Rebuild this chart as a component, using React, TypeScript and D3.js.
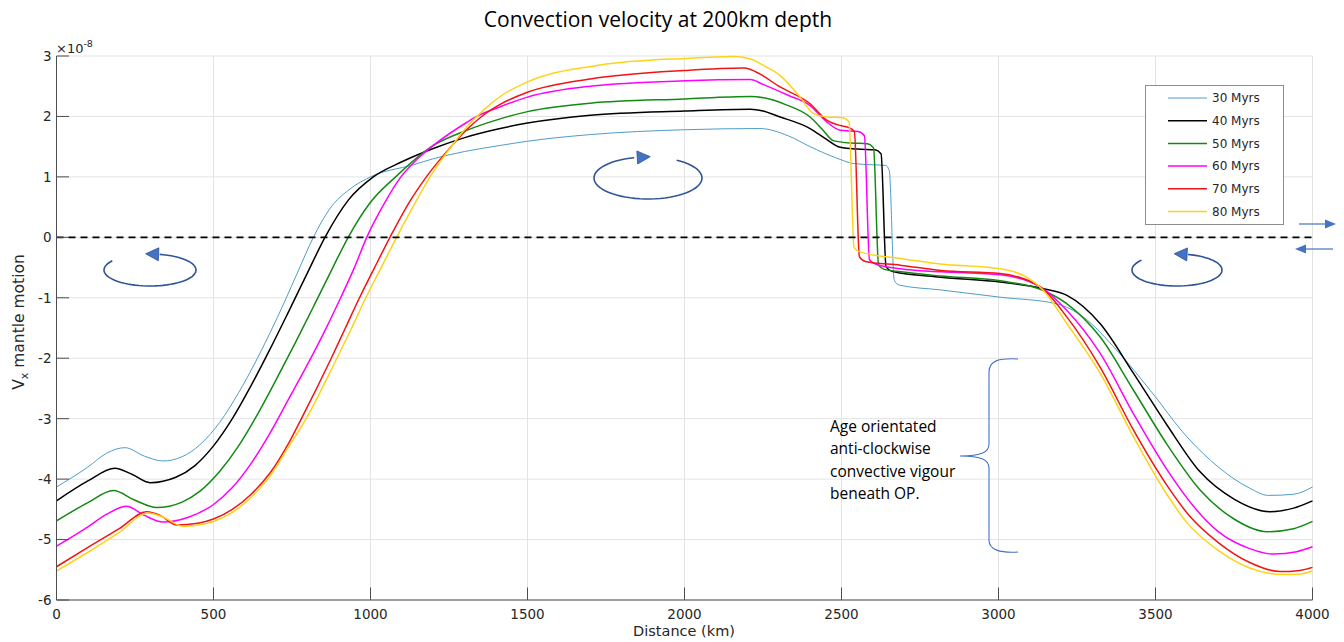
import React from 'react';
import * as d3 from 'd3';

const xTicks = [0, 500, 1000, 1500, 2000, 2500, 3000, 3500, 4000];
const yTicks = [-6, -5, -4, -3, -2, -1, 0, 1, 2, 3];
const seriesNames = ['30 Myrs', '40 Myrs', '50 Myrs', '60 Myrs', '70 Myrs', '80 Myrs'];
const seriesColors = ['#4f9cc9', '#000000', '#138a13', '#ff00ff', '#f21414', '#ffd21a'];
const seriesWidths = [1, 1.5, 1.5, 1.5, 1.5, 1.5];

const v30: [number, number][] = [[0,-4.13],[100,-3.80],[160,-3.57],[218,-3.48],[280,-3.62],[339,-3.70],[400,-3.63],[457,-3.43],[520,-3.06],[580,-2.57],[632,-2.08],[680,-1.58],[726,-1.07],[772,-0.53],[818,0],[870,0.47],[935,0.80],[1000,1.0],[1136,1.20],[1200,1.30],[1300,1.42],[1413,1.52],[1500,1.59],[1700,1.70],[2000,1.78],[2240,1.80],[2330,1.68],[2400,1.50],[2480,1.32],[2540,1.22],[2600,1.20],[2640,1.19],[2652,1.11],[2668,-0.71],[2684,-0.79],[2816,-0.87],[3005,-0.99],[3186,-1.10],[3270,-1.32],[3377,-1.87],[3483,-2.53],[3600,-3.30],[3700,-3.80],[3800,-4.15],[3860,-4.27],[3940,-4.25],[4000,-4.13]];
const v40: [number, number][] = [[0,-4.36],[100,-4.03],[186,-3.82],[240,-3.92],[298,-4.06],[380,-3.97],[440,-3.78],[500,-3.45],[560,-3.00],[620,-2.45],[680,-1.85],[740,-1.22],[800,-0.58],[855,0],[930,0.62],[1009,1.0],[1100,1.25],[1200,1.47],[1300,1.65],[1413,1.80],[1500,1.89],[1700,2.02],[2000,2.09],[2210,2.12],[2250,2.09],[2300,2.0],[2400,1.80],[2450,1.63],[2496,1.49],[2550,1.46],[2606,1.45],[2626,1.38],[2642,-0.49],[2660,-0.56],[2816,-0.66],[3005,-0.74],[3143,-0.85],[3218,-0.96],[3324,-1.43],[3430,-2.25],[3536,-3.10],[3642,-3.88],[3750,-4.33],[3865,-4.54],[3940,-4.48],[4000,-4.36]];
const v50: [number, number][] = [[0,-4.69],[100,-4.39],[181,-4.19],[250,-4.35],[319,-4.47],[400,-4.38],[457,-4.20],[520,-3.87],[580,-3.45],[640,-2.93],[700,-2.35],[760,-1.75],[820,-1.13],[880,-0.50],[929,0],[1000,0.58],[1080,1.0],[1200,1.52],[1306,1.77],[1413,1.96],[1500,2.08],[1700,2.22],[2000,2.29],[2210,2.33],[2260,2.30],[2320,2.20],[2400,1.99],[2440,1.78],[2474,1.60],[2530,1.56],[2582,1.55],[2602,1.48],[2618,-0.46],[2636,-0.53],[2690,-0.57],[2816,-0.64],[3005,-0.72],[3143,-0.88],[3218,-1.10],[3324,-1.65],[3430,-2.53],[3536,-3.42],[3642,-4.18],[3750,-4.66],[3855,-4.87],[3940,-4.82],[4000,-4.70]];
const v60: [number, number][] = [[0,-5.11],[100,-4.79],[160,-4.58],[223,-4.45],[280,-4.60],[340,-4.71],[420,-4.63],[500,-4.42],[560,-4.14],[620,-3.74],[680,-3.24],[740,-2.67],[810,-2.0],[860,-1.49],[905,-1.0],[948,-0.51],[988,0],[1045,0.57],[1094,0.98],[1150,1.30],[1200,1.52],[1306,1.90],[1338,2.00],[1413,2.16],[1500,2.32],[1700,2.50],[2000,2.59],[2210,2.61],[2250,2.53],[2330,2.35],[2400,2.18],[2453,1.91],[2496,1.77],[2553,1.75],[2573,1.68],[2589,-0.37],[2608,-0.44],[2687,-0.52],[2816,-0.57],[3005,-0.62],[3133,-0.82],[3218,-1.21],[3324,-1.92],[3430,-2.92],[3536,-3.84],[3621,-4.45],[3700,-4.87],[3800,-5.15],[3875,-5.24],[3950,-5.20],[4000,-5.12]];
const v70: [number, number][] = [[0,-5.45],[100,-5.13],[200,-4.82],[287,-4.54],[330,-4.60],[383,-4.76],[450,-4.73],[500,-4.66],[560,-4.50],[620,-4.25],[680,-3.90],[740,-3.40],[780,-3.0],[875,-2.0],[920,-1.5],[965,-1.0],[1013,-0.5],[1062,0],[1120,0.55],[1185,1.05],[1253,1.48],[1306,1.78],[1359,2.02],[1413,2.20],[1500,2.40],[1700,2.62],[2000,2.76],[2190,2.80],[2241,2.70],[2300,2.50],[2400,2.21],[2453,1.94],[2496,1.85],[2521,1.82],[2541,1.75],[2557,-0.32],[2576,-0.40],[2687,-0.46],[2816,-0.55],[3005,-0.60],[3133,-0.82],[3218,-1.32],[3324,-2.15],[3430,-3.19],[3536,-4.10],[3610,-4.62],[3700,-5.05],[3800,-5.38],[3897,-5.53],[3960,-5.51],[4000,-5.46]];
const v80: [number, number][] = [[0,-5.52],[100,-5.21],[200,-4.88],[292,-4.56],[340,-4.63],[404,-4.78],[450,-4.76],[500,-4.70],[560,-4.55],[620,-4.30],[680,-3.95],[740,-3.46],[795,-3.0],[893,-2.0],[940,-1.5],[985,-1.0],[1034,-0.5],[1083,0],[1140,0.55],[1192,1.02],[1260,1.52],[1306,1.82],[1359,2.10],[1413,2.33],[1500,2.57],[1731,2.85],[2000,2.96],[2156,2.99],[2210,2.95],[2260,2.82],[2304,2.68],[2368,2.32],[2410,2.05],[2453,1.99],[2504,1.98],[2524,1.91],[2540,-0.17],[2559,-0.24],[2687,-0.35],[2816,-0.44],[3005,-0.52],[3079,-0.63],[3143,-0.88],[3218,-1.43],[3324,-2.25],[3430,-3.30],[3536,-4.25],[3600,-4.72],[3700,-5.18],[3800,-5.47],[3907,-5.58],[3960,-5.57],[4000,-5.52]];
const seriesData = [v30, v40, v50, v60, v70, v80];

const annotationLines = ['Age orientated', 'anti-clockwise', 'convective vigour', 'beneath OP.'];

const W = 1344, H = 642;
const M = { left: 56.5, right: 1312.5, top: 56, bottom: 600 };

function ellipseArc(cx: number, cy: number, rx: number, ry: number, t0: number, t1: number) {
  const n = 60;
  const pts: [number, number][] = [];
  for (let i = 0; i <= n; i++) {
    const t = ((t0 + (t1 - t0) * i / n) * Math.PI) / 180;
    pts.push([cx + rx * Math.cos(t), cy + ry * Math.sin(t)]);
  }
  return pts;
}

function Arrowhead({ x, y, angle }: { x: number; y: number; angle: number }) {
  return (
    <path
      d="M0,0 L-13,-6.5 L-13,6.5 Z"
      transform={`translate(${x},${y}) rotate(${angle})`}
      fill="#4472c4"
      stroke="#2f5597"
      strokeWidth={0.8}
    />
  );
}

function CircArrow({ cx, cy, rx, ry, t0, t1 }: { cx: number; cy: number; rx: number; ry: number; t0: number; t1: number }) {
  const pts = ellipseArc(cx, cy, rx, ry, t0, t1);
  const line = d3.line();
  const end = pts[pts.length - 1];
  const prev = pts[pts.length - 3];
  const ang = (Math.atan2(end[1] - prev[1], end[0] - prev[0]) * 180) / Math.PI;
  return (
    <g>
      <path d={line(pts.slice(0, pts.length - 2)) || ''} fill="none" stroke="#2f5597" strokeWidth={1.6} />
      <Arrowhead x={end[0] + Math.cos((ang * Math.PI) / 180) * 6} y={end[1] + Math.sin((ang * Math.PI) / 180) * 6} angle={ang} />
    </g>
  );
}

export default function App() {
  const x = d3.scaleLinear().domain([0, 4000]).range([M.left, M.right]);
  const y = d3.scaleLinear().domain([-6, 3]).range([M.bottom, M.top]);
  const line = d3
    .line<[number, number]>()
    .x((d) => x(d[0]))
    .y((d) => y(d[1]))
    .curve(d3.curveMonotoneX);

  const tickFont = "'DejaVu Sans', sans-serif";
  const axisColor = '#4d4d4d';
  const textColor = '#262626';

  return (
    <svg width={W} height={H} style={{ position: 'absolute', left: 0, top: 0, background: '#fff' }}>
      <rect x={0} y={0} width={W} height={H} fill="#fff" />
      {xTicks.map((t) => (
        <line key={'gx' + t} x1={x(t)} x2={x(t)} y1={M.top} y2={M.bottom} stroke="#e3e3e3" strokeWidth={1} />
      ))}
      {yTicks.map((t) => (
        <line key={'gy' + t} x1={M.left} x2={M.right} y1={y(t)} y2={y(t)} stroke="#e3e3e3" strokeWidth={1} />
      ))}

      {seriesData.map((s, i) => (
        <path key={'s' + i} d={line(s) || ''} fill="none" stroke={seriesColors[i]} strokeWidth={seriesWidths[i]} strokeLinejoin="round" />
      ))}

      <line x1={x(0)} x2={x(4000)} y1={y(0)} y2={y(0)} stroke="#000" strokeWidth={1.8} strokeDasharray="7,5" />

      <line x1={M.left} x2={M.left} y1={M.top} y2={M.bottom} stroke={axisColor} strokeWidth={1} />
      <line x1={M.left} x2={M.right} y1={M.bottom} y2={M.bottom} stroke={axisColor} strokeWidth={1} />
      {yTicks.map((t) => (
        <g key={'yt' + t}>
          <line x1={M.left} x2={M.left + 12.5} y1={y(t)} y2={y(t)} stroke={axisColor} strokeWidth={1} />
          <text x={M.left - 5} y={y(t)} dy="0.36em" textAnchor="end" fontFamily={tickFont} fontSize={13.5} fill={textColor}>
            {t}
          </text>
        </g>
      ))}
      {xTicks.map((t) => (
        <g key={'xt' + t}>
          <line x1={x(t)} x2={x(t)} y1={M.bottom} y2={M.bottom - 12.5} stroke={axisColor} strokeWidth={1} />
          <text x={x(t)} y={619} textAnchor="middle" fontFamily={tickFont} fontSize={13.5} fill={textColor}>
            {t}
          </text>
        </g>
      ))}
      <text x={56} y={53} fontFamily={tickFont} fontSize={13} fill={textColor}>
        ×10
        <tspan fontSize={9.5} dy={-6}>-8</tspan>
      </text>

      <text x={658} y={27} textAnchor="middle" fontFamily="'Open Sans', sans-serif" fontSize={21} fill="#000">
        Convection velocity at 200km depth
      </text>
      <text x={684} y={636} textAnchor="middle" fontFamily={tickFont} fontSize={14.5} fill={textColor}>
        Distance (km)
      </text>
      <text transform="translate(24,322) rotate(-90)" textAnchor="middle" fontFamily={tickFont} fontSize={15.5} fill={textColor}>
        V<tspan fontSize={11} dy={4}>x</tspan>
        <tspan dy={-4}> mantle motion</tspan>
      </text>

      <rect x={1145.5} y={85.5} width={138} height={139} fill="#fff" stroke="#8c8c8c" strokeWidth={1} />
      {seriesNames.map((n, i) => (
        <g key={'lg' + i}>
          <line x1={1168} x2={1207} y1={98 + i * 22.7} y2={98 + i * 22.7} stroke={seriesColors[i]} strokeWidth={seriesWidths[i]} />
          <text x={1212} y={98 + i * 22.7} dy="0.36em" fontFamily={tickFont} fontSize={12} fill={textColor}>
            {n}
          </text>
        </g>
      ))}

      <CircArrow cx={150} cy={270} rx={46} ry={16} t0={215} t1={-88} />
      <CircArrow cx={648} cy={178} rx={54} ry={21} t0={-58} t1={266} />
      <CircArrow cx={1177} cy={270} rx={45} ry={16} t0={218} t1={-86} />

      <line x1={1299} x2={1325} y1={224} y2={224} stroke="#4472c4" strokeWidth={1.2} />
      <path d="M1336,224 L1325,219.5 L1325,228.5 Z" fill="#4472c4" />
      <line x1={1333} x2={1306} y1={249} y2={249} stroke="#4472c4" strokeWidth={1.2} />
      <path d="M1295,249 L1306,244.5 L1306,253.5 Z" fill="#4472c4" />

      <path
        d="M1018,359 C1000,358 989,360 989,372 L989,444 C989,452 982,456 960,456 C982,456 989,460 989,468 L989,540 C989,550 1000,553 1018,552"
        fill="none"
        stroke="#4472c4"
        strokeWidth={1.1}
      />

      {annotationLines.map((l, i) => (
        <text key={'an' + i} x={830} y={432 + i * 22.3} fontFamily="'Open Sans', sans-serif" fontSize={15.5} fill="#000">
          {l}
        </text>
      ))}
    </svg>
  );
}
